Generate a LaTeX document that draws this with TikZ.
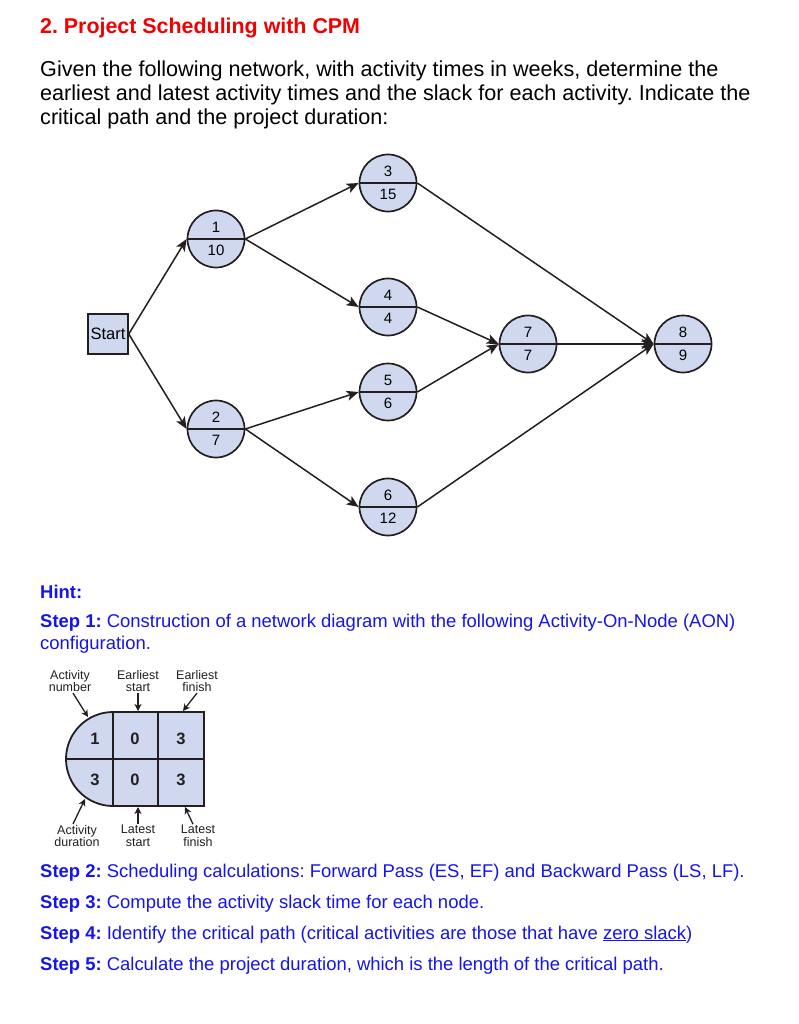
\documentclass[tikz,border=0pt]{standalone}
\usepackage{fontspec}
\setmainfont{Liberation Sans}
\usepackage{tikz}
\usetikzlibrary{arrows.meta,%
		shapes.multipart,%
		positioning}

\definecolor{titlered}{RGB}{240,0,0}
\definecolor{hintblue}{RGB}{20,20,235}
\definecolor{nodefill}{RGB}{207,216,238}
\definecolor{linec}{RGB}{35,31,32}

\newcommand{\fsz}[1]{\fontsize{#1}{#1}\selectfont}
\frenchspacing

\begin{document}
\begin{tikzpicture}[x=1pt,y=-1pt,
  act/.style={circle split, draw=linec, fill=nodefill, line width=1.7,
    minimum size=57, inner xsep=2, inner ysep=5.5, font=\fsz{15}},
  startbox/.style={rectangle, draw=linec, fill=nodefill, line width=1.5,
    minimum size=40, inner sep=0, font=\fsz{16.5}},
  flow/.style={-{Stealth[length=12,width=10,inset=3]}, line width=1.5, draw=linec},
  legarrow/.style={-{Stealth[length=7,width=7,inset=2]}, line width=1.3, draw=linec},
  leg/.style={align=center, font=\fsz{12.5}, inner sep=1, text=linec},
  cellnum/.style={font=\bfseries\fsz{16.5}, text=linec},
  txt/.style={anchor=base west, inner sep=0, font=\fsz{21.6}},
  hint/.style={anchor=base west, inner sep=0, font=\fsz{18.45}, text=hintblue}]
  \useasboundingbox (0,0) rectangle (799,1024);

  % question
  \node[txt, font=\bfseries\fsz{21.4}, text=titlered] (title) at (40,34) {2. Project Scheduling with CPM};
  \node[txt] (q1) at (40,77) {Given the following network, with activity times in weeks, determine the};
  \node[txt] (q2) at (40,101) {earliest and latest activity times and the slack for each activity. Indicate the};
  \node[txt] (q3) at (40,125) {critical path and the project duration:};

  % network
  \node[startbox] (start) at (108,334) {Start};
  \node[act] (a1) at (216,239) {1 \nodepart{lower} 10};
  \node[act] (a2) at (216,429) {2 \nodepart{lower} 7};
  \node[act] (a3) at (388,183) {3 \nodepart{lower} 15};
  \node[act] (a4) at (388,307) {4 \nodepart{lower} 4};
  \node[act] (a5) at (388,392) {5 \nodepart{lower} 6};
  \node[act] (a6) at (388,507) {6 \nodepart{lower} 12};
  \node[act] (a7) at (528,344) {7 \nodepart{lower} 7};
  \node[act] (a8) at (683,344) {8 \nodepart{lower} 9};

  \draw[flow] (start.east) -- (a1.west);
  \draw[flow] (start.east) -- (a2.west);
  \draw[flow] (a1.east) -- (a3.west);
  \draw[flow] (a1.east) -- (a4.west);
  \draw[flow] (a2.east) -- (a5.west);
  \draw[flow] (a2.east) -- (a6.west);
  \draw[flow] (a3.east) -- (a8.west);
  \draw[flow] (a4.east) -- (a7.west);
  \draw[flow] (a5.east) -- (a7.west);
  \draw[flow] (a6.east) -- (a8.west);
  \draw[flow] (a7.east) -- (a8.west);

  % hint
  \node[hint] (hint) at (40,598) {\textbf{Hint:}};
  \node[hint] (step1) at (40,627) {\textbf{Step 1:} Construction of a network diagram with the following Activity-On-Node (AON)};
  \node[hint] (step1b) at (40,649) {configuration.};

  % AON legend
  \filldraw[fill=nodefill, draw=linec, line width=1.8]
    (113,806) arc[start angle=90, end angle=270, radius=47] -- (204,712) -- (204,806) -- cycle;
  \draw[linec, line width=1.8] (113,712) -- (113,806);
  \draw[linec, line width=1.8] (158,712) -- (158,806);
  \draw[linec, line width=1.8] (66,759) -- (204,759);
  \node[cellnum] (num) at (95,739) {1};
  \node[cellnum] (es) at (135,739) {0};
  \node[cellnum] (ef) at (181,739) {3};
  \node[cellnum] (dur) at (95,780) {3};
  \node[cellnum] (ls) at (135,780) {0};
  \node[cellnum] (lf) at (181,780) {3};

  \node[leg] (lnum) at (70,681) {Activity\\number};
  \node[leg] (les) at (138,681) {Earliest\\start};
  \node[leg] (lef) at (197,681) {Earliest\\finish};
  \node[leg] (ldur) at (77,836) {Activity\\duration};
  \node[leg] (lls) at (138,836) {Latest\\start};
  \node[leg] (llf) at (198,836) {Latest\\finish};
  \coordinate (tnum) at (88,717);
  \coordinate (tes) at (138,711);
  \coordinate (tef) at (183,711);
  \coordinate (tdur) at (85,799);
  \coordinate (tls) at (138,807);
  \coordinate (tlf) at (185,807);
  \draw[legarrow] ([xshift=3]lnum.south) -- (tnum);
  \draw[legarrow] (les.south) -- (tes);
  \draw[legarrow] (lef.south) -- (tef);
  \draw[legarrow] ([xshift=-4]ldur.north) -- (tdur);
  \draw[legarrow] (lls.north) -- (tls);
  \draw[legarrow] ([xshift=-5]llf.north) -- (tlf);

  % steps
  \node[hint] (step2) at (40,877) {\textbf{Step 2:} Scheduling calculations: Forward Pass (ES, EF) and Backward Pass (LS, LF).};
  \node[hint] (step3) at (40,908) {\textbf{Step 3:} Compute the activity slack time for each node.};
  \node[hint] (step4) at (40,939) {\textbf{Step 4:} Identify the critical path (critical activities are those that have \underline{zero slack})};
  \node[hint] (step5) at (40,970) {\textbf{Step 5:} Calculate the project duration, which is the length of the critical path.};

\end{tikzpicture}
\end{document}
